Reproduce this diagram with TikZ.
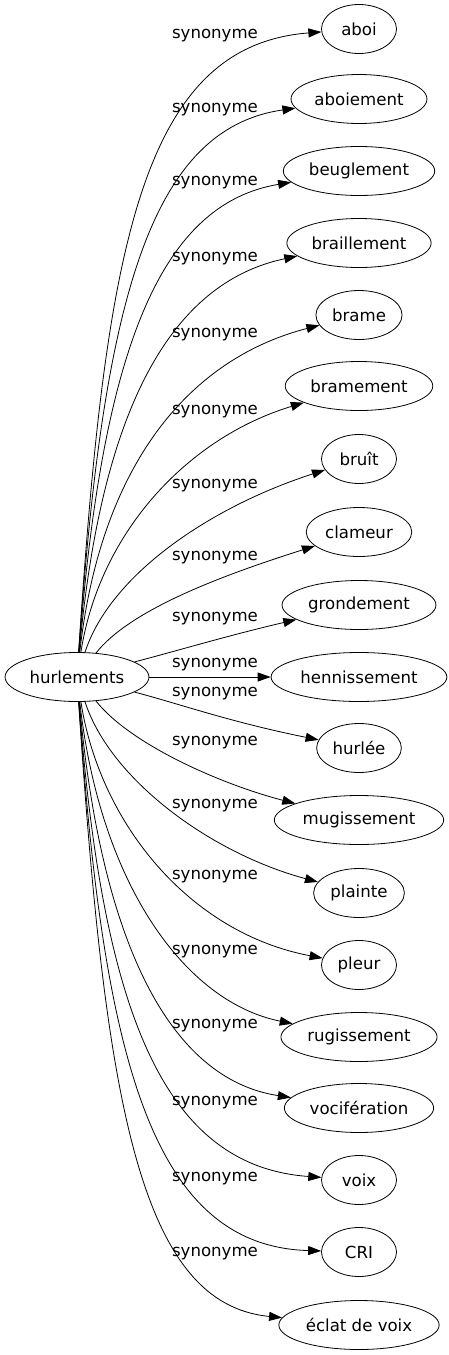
\documentclass[tikz,border=0pt]{standalone}
\usepackage{fontspec}
\setmainfont{DejaVu Sans}
\usetikzlibrary{arrows.meta}
\usetikzlibrary{shapes.geometric}

\begin{document}
\begin{tikzpicture}[x=1pt, y=-1pt,
    word/.style={draw, ellipse, line width=0.8pt, minimum width=75pt,
        minimum height=49pt, inner xsep=3.5pt, inner ysep=0pt,
        font=\fontsize{16.6}{19}\selectfont},
    rel/.style={inner sep=0pt, font=\fontsize{16.6}{19}\selectfont},
    syn/.style={line width=0.8pt, -{Triangle[length=13pt,width=9pt]}}]

    \useasboundingbox (0,0) rectangle (449,1355);

    \node[word] (hurl) at (77,677) {hurlements};

    \node[word] (aboi) at (359,29) {aboi};
    \node[word] (aboiement) at (359,99) {aboiement};
    \node[word] (beuglement) at (359,171) {beuglement};
    \node[word] (braillement) at (359,243) {braillement};
    \node[word] (brame) at (359,315) {brame};
    \node[word] (bramement) at (359,386) {bramement};
    \node[word] (bruit) at (359,459) {bruît};
    \node[word] (clameur) at (359,532) {clameur};
    \node[word] (grondement) at (359,605) {grondement};
    \node[word] (hennissement) at (359,677) {hennissement};
    \node[word] (hurlee) at (359,748) {hurlée};
    \node[word] (mugissement) at (359,820) {mugissement};
    \node[word] (plainte) at (359,893) {plainte};
    \node[word] (pleur) at (359,965) {pleur};
    \node[word] (rugissement) at (359,1037) {rugissement};
    \node[word] (vociferation) at (359,1108) {vocifération};
    \node[word] (voix) at (359,1180) {voix};
    \node[word] (cri) at (359,1252) {CRI};
    \node[word] (eclat) at (359,1325) {éclat de voix};

    % edges above the middle
    \draw[syn] (hurl) .. controls (105,250) and (140,46) .. (aboi);
    \draw[syn] (hurl) .. controls (103,300) and (150,129) .. (aboiement);
    \draw[syn] (hurl) .. controls (102,350) and (160,204) .. (beuglement);
    \draw[syn] (hurl) .. controls (101,410) and (170,283) .. (braillement);
    \draw[syn] (hurl) .. controls (100,470) and (185,360) .. (brame);
    \draw[syn] (hurl) .. controls (100,530) and (190,437) .. (bramement);
    \draw[syn] (hurl) .. controls (110,575) and (210,507) .. (bruit);
    \draw[syn] (hurl) .. controls (130,610) and (220,576) .. (clameur);
    \draw[syn] (hurl) .. controls (180,650) and (230,635) .. (grondement);
    \draw[syn] (hurl) -- (hennissement);

    % edges below the middle
    \draw[syn] (hurl) .. controls (180,704) and (230,722) .. (hurlee);
    \draw[syn] (hurl) .. controls (130,744) and (220,784) .. (mugissement);
    \draw[syn] (hurl) .. controls (110,779) and (210,853) .. (plainte);
    \draw[syn] (hurl) .. controls (100,824) and (190,933) .. (pleur);
    \draw[syn] (hurl) .. controls (100,884) and (185,1002) .. (rugissement);
    \draw[syn] (hurl) .. controls (101,944) and (170,1079) .. (vociferation);
    \draw[syn] (hurl) .. controls (102,1004) and (160,1166) .. (voix);
    \draw[syn] (hurl) .. controls (103,1054) and (150,1246) .. (cri);
    \draw[syn] (hurl) .. controls (105,1104) and (140,1304) .. (eclat);

    % labels
    \node[rel] (s1) at (215,36) {synonyme};
    \node[rel] (s2) at (215,110) {synonyme};
    \node[rel] (s3) at (215,183) {synonyme};
    \node[rel] (s4) at (215,259) {synonyme};
    \node[rel] (s5) at (215,335) {synonyme};
    \node[rel] (s6) at (215,412) {synonyme};
    \node[rel] (s7) at (215,486) {synonyme};
    \node[rel] (s8) at (215,558) {synonyme};
    \node[rel] (s9) at (215,619) {synonyme};
    \node[rel] (s10) at (215,665) {synonyme};
    \node[rel] (s11) at (215,694) {synonyme};
    \node[rel] (s12) at (215,743) {synonyme};
    \node[rel] (s13) at (215,806) {synonyme};
    \node[rel] (s14) at (215,877) {synonyme};
    \node[rel] (s15) at (215,952) {synonyme};
    \node[rel] (s16) at (215,1026) {synonyme};
    \node[rel] (s17) at (215,1103) {synonyme};
    \node[rel] (s18) at (215,1179) {synonyme};
    \node[rel] (s19) at (215,1254) {synonyme};

\end{tikzpicture}
\end{document}
